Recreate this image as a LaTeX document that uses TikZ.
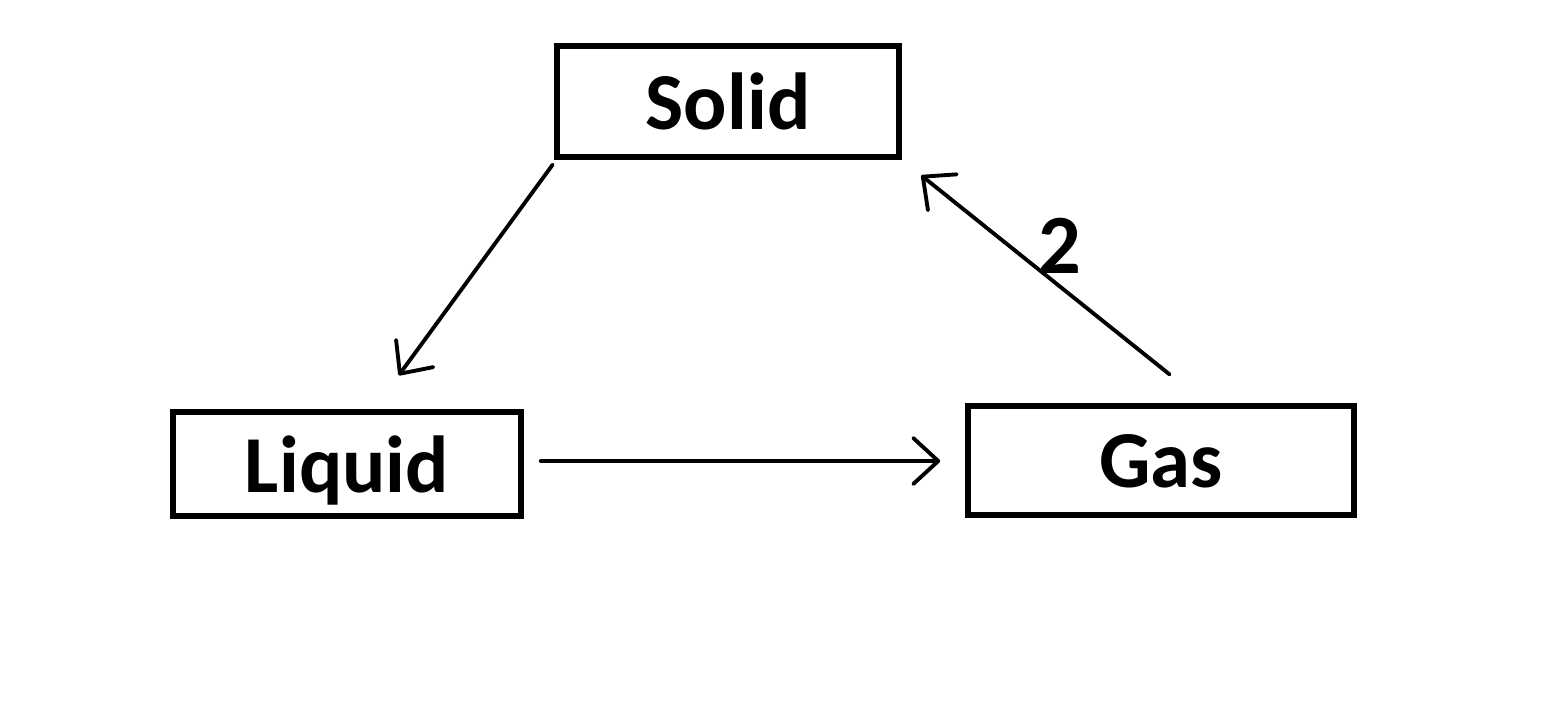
\documentclass[tikz,border=0pt]{standalone}
\usepackage{fontspec}
\setmainfont{Carlito}
\usetikzlibrary{arrows.meta,positioning,calc}
\tikzset{
  state/.style={draw, line width=1.6pt, inner sep=0pt, font=\fontsize{23}{26}\selectfont\bfseries, text depth=0pt},
  arrow/.style={-{Straight Barb[length=2.5mm, width=4.6mm, line cap=round, line join=round]}, line width=1.1pt, line cap=round},
  lbl/.style={font=\fontsize{24}{28}\selectfont\bfseries}
}

\begin{document}
\begin{tikzpicture}[x=1cm, y=1cm]
    \useasboundingbox (0,0) rectangle (15.59,-7.01);
    % Nodes
    \node[state, minimum width=3.42cm, minimum height=1.11cm] (solid) at (7.28,-1.015) {Solid};
    \node[state, minimum width=3.48cm, minimum height=1.04cm] (liquid) at (3.47,-4.64) {Liquid};
    \node[state, minimum width=3.86cm, minimum height=1.09cm] (gas) at (11.61,-4.605) {Gas};

    % Arrows
    \draw[arrow, shorten <=0.06cm, shorten >=0.42cm] ([xshift=0.02cm]solid.south west) -- ([xshift=0.27cm]liquid.north);
    \draw[arrow, shorten <=0.17cm, shorten >=0.25cm] ([yshift=0.03cm]liquid.east) -- ([yshift=0.03cm]liquid.east -| gas.west);
    \draw[arrow, shorten <=0.46cm, shorten >=0.25cm] ([xshift=0.445cm]gas.north) -- (solid.south east);

    % Label
    \node[lbl] (two) at (10.6,-2.46) {2};
\end{tikzpicture}
\end{document}
